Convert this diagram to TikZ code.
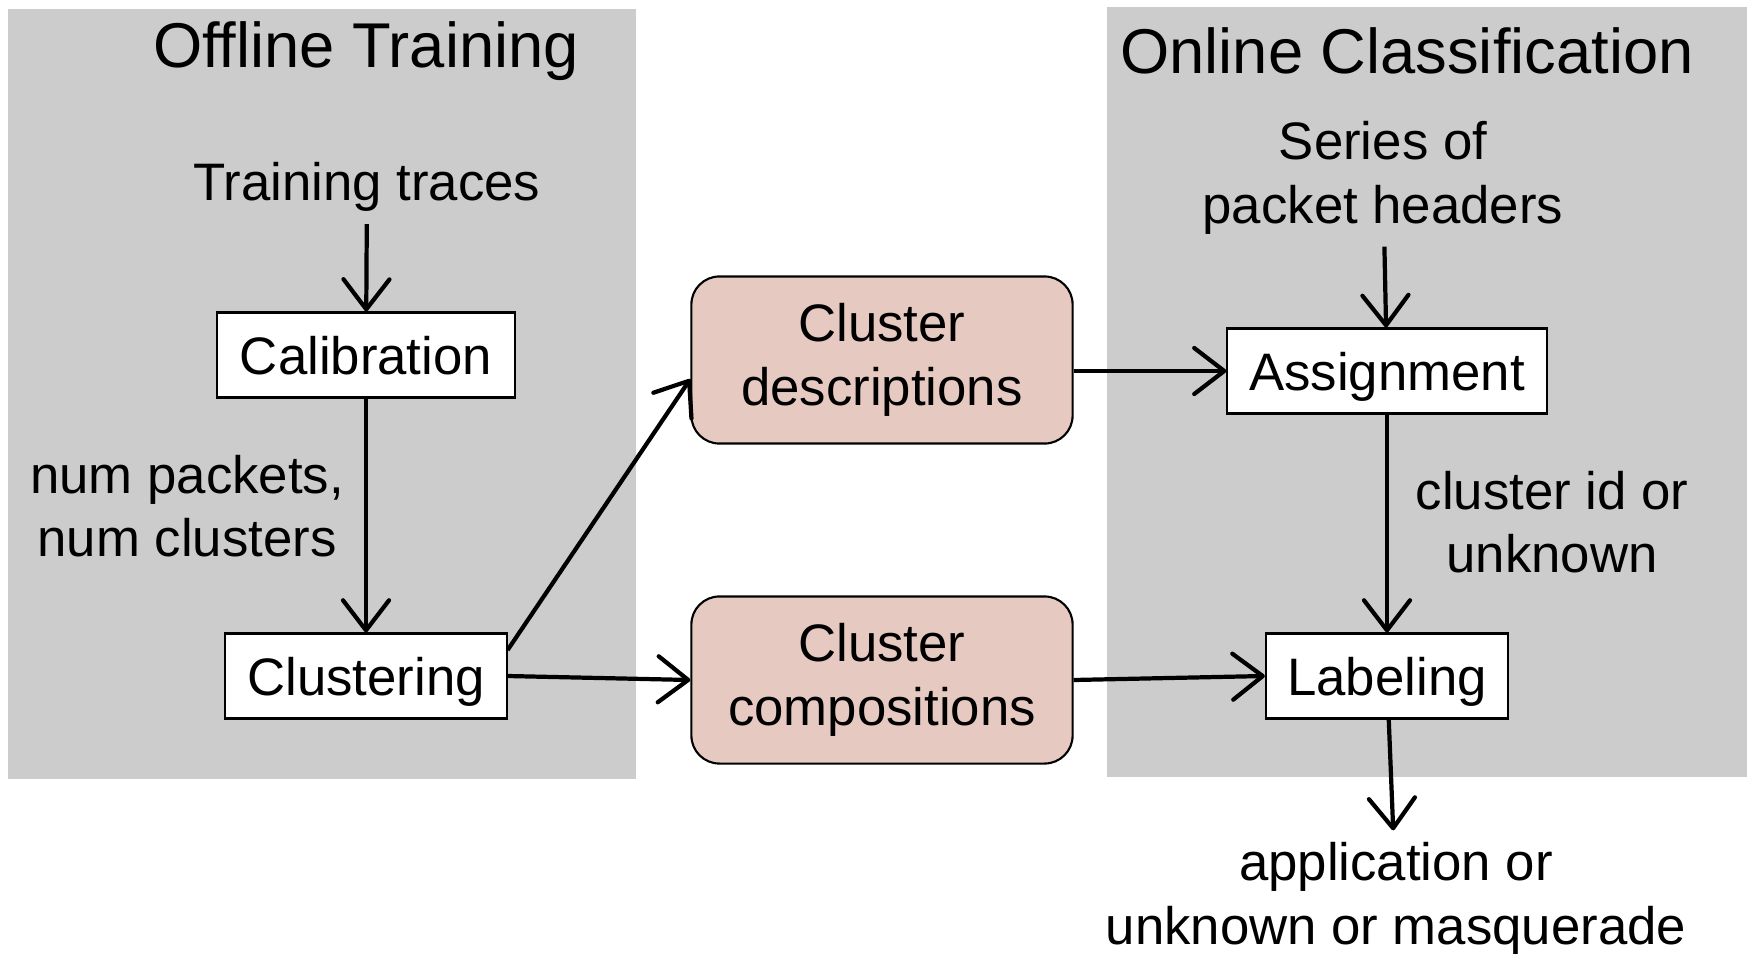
\documentclass[tikz,border=0pt]{standalone}
\usepackage{fontspec}
\setmainfont{Liberation Sans}
\usetikzlibrary{arrows.meta,calc}
\definecolor{panelgray}{RGB}{204,204,204}
\definecolor{storepink}{RGB}{230,202,194}
\begin{document}
\begin{tikzpicture}[
  x=0.01cm, y=-0.01cm,
  font=\fontsize{15}{18}\selectfont,
  stage/.style={draw, fill=white, line width=0.6pt, minimum height=0.85cm, inner sep=0pt, text depth=0pt},
  store/.style={draw, fill=storepink, rounded corners=0.28cm, line width=0.6pt, minimum width=3.81cm, minimum height=1.67cm, align=center},
  note/.style={align=center},
  title/.style={font=\fontsize{18}{22}\selectfont},
  flow/.style={-{Straight Barb[length=3mm,width=4.6mm,round]}, line width=1.2pt}
]
\useasboundingbox (0,0) rectangle (1747,954);
\fill[panelgray] (8,9) rectangle (636,779);
\fill[panelgray] (1107,7) rectangle (1747,777);

\node[title] (offline) at (366,51) {Offline Training};
\node[title] (online) at (1407,51) {Online Classification};

\node (traces) at (367,187) {Training traces};
\node[stage, minimum width=2.97cm] (calib) at (366,355) {Calibration};
\node[note] (params) at (187,506) {num packets,\\num clusters};
\node[stage, minimum width=2.81cm] (clust) at (366,676) {Clustering};

\node[store] (desc) at (882,360) {Cluster\\descriptions};
\node[store] (comp) at (882,680) {Cluster\\compositions};

\node[note] (headers) at (1383,178) {Series of\\packet headers};
\node[stage, minimum width=3.19cm] (assign) at (1387,371) {Assignment};
\node[note] (ident) at (1552,522) {cluster id or\\unknown};
\node[stage, minimum width=2.42cm] (label) at (1387,676) {Labeling};
\node[note] (verdict) at (1396,899) {application or\\unknown or masquerade};

\draw[flow] (traces) -- (calib);
\draw[flow] (calib) -- (clust);
\draw[flow] ($(clust.east)+(0,-26)$) -- ($(desc.west)+(0,19)$);
\draw[flow] (clust.east) -- (comp.west);
\draw[flow] (desc.east |- assign) -- (assign.west);
\draw[flow] (headers) -- (assign);
\draw[flow] (assign) -- (label);
\draw[flow] (comp.east) -- (label.west);
\draw[flow] (label) -- (verdict);
\end{tikzpicture}
\end{document}
